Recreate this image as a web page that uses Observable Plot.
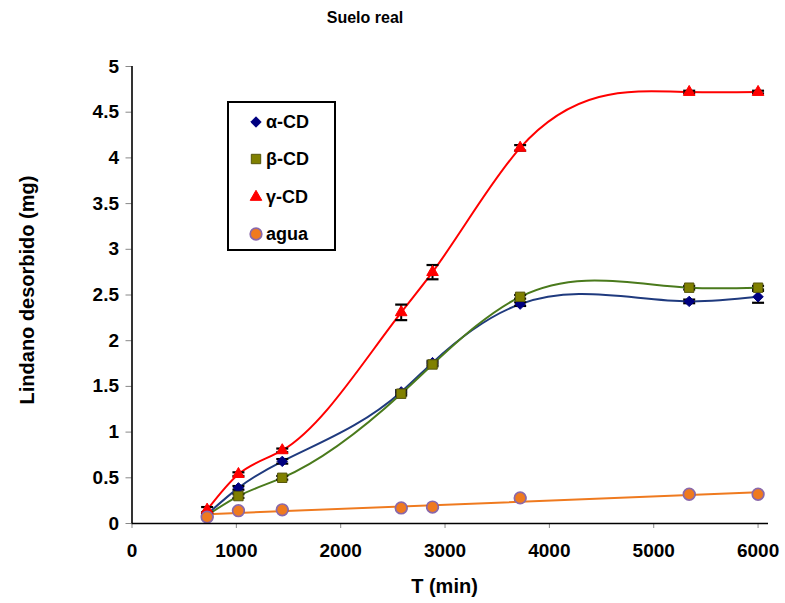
<!DOCTYPE html>
<html>
<head>
<meta charset="utf-8">
<script src="https://cdn.jsdelivr.net/npm/d3@7"></script>
<script src="https://cdn.jsdelivr.net/npm/@observablehq/plot@0.6"></script>
<style>
  body { margin: 0; background: #fff; }
  #wrap { position: relative; width: 785px; height: 603px; font-family: "Liberation Sans", Arial, sans-serif; font-weight: bold; color: #000; }
  #wrap svg.plot { position: absolute; left: 0; top: 0; }
  .lbl { position: absolute; white-space: nowrap; font-weight: bold; }
  #title { left: 0; width: 730px; top: 9px; text-align: center; font-size: 16px; }
  #xlabel { left: 132px; width: 625px; top: 575px; text-align: center; font-size: 20px; }
  #ylabel { left: 27px; top: 290px; font-size: 20px; transform: translate(-50%, -50%) rotate(-90deg); }
  #legend { position: absolute; left: 227px; top: 101px; width: 105px; height: 146px; border: 2px solid #000; background: #fff; }
  #legend .row { position: absolute; left: 0; height: 20px; display: flex; align-items: center; font-size: 18px; }
  #legend svg { margin-left: 20px; margin-right: 3px; }
</style>
</head>
<body>
<div id="wrap">
  <div id="title" class="lbl">Suelo real</div>
  <div id="xlabel" class="lbl">T (min)</div>
  <div id="ylabel" class="lbl">Lindano desorbido (mg)</div>
  <div id="legend"></div>
</div>
<script>
// Sampling times (min)
const times = [720, 1020, 1440, 2580, 2880, 3720, 5340, 6000];

// Desorbed lindane (mg) per extractant, with error half-widths
const alphaCD  = [0.10, 0.39, 0.68, 1.44, 1.76, 2.40, 2.43, 2.48];
const alphaErr = [0.02, 0.02, 0.025, 0.02, 0.02, 0.02, 0.02, 0.065];
const betaCD   = [0.09, 0.30, 0.50, 1.42, 1.74, 2.48, 2.58, 2.58];
const betaErr  = [0.02, 0.02, 0.02, 0.02, 0.02, 0.02, 0.02, 0.02];
const gammaCD  = [0.15, 0.54, 0.80, 2.31, 2.75, 4.11, 4.72, 4.72];
const gammaErr = [0.03, 0.02, 0.02, 0.085, 0.078, 0.03, 0.015, 0.015];
const agua     = [0.07, 0.14, 0.15, 0.17, 0.18, 0.28, 0.32, 0.32];
const aguaErr  = [0.01, 0.01, 0.01, 0.01, 0.01, 0.01, 0.01, 0.01];

const seriesNames = ["α-CD", "β-CD", "γ-CD", "agua"];

// Axis ticks
const xTicks = [0, 1000, 2000, 3000, 4000, 5000, 6000];
const yTicks = [0, 0.5, 1, 1.5, 2, 2.5, 3, 3.5, 4, 4.5, 5];

// Drawing styles per series
const styles = {
  "α-CD": {line: "#1f3a7e", symbol: "diamond2", fill: "#000080", stroke: "#000080", r: 4.7},
  "β-CD": {line: "#4a7a1c", symbol: "square", fill: "#808000", stroke: "#55550a", r: 5.3},
  "γ-CD": {line: "#ff0000", symbol: "triangle", fill: "#ff0000", stroke: "#ff0000", r: 4.3},
  "agua": {line: "#ef7a1f", symbol: "circle", fill: "#ef7a1f", stroke: "#8a68aa", r: 5.8}
};

const valueArrays = [alphaCD, betaCD, gammaCD, agua];
const errArrays = [alphaErr, betaErr, gammaErr, aguaErr];
const rows = seriesNames.map((name, s) =>
  times.map((t, i) => ({serie: name, t, v: valueArrays[s][i], e: errArrays[s][i]}))
);

// Smooth curve: natural cubic spline of y as a function of x, drawn as Bézier segments
function curveSplineX(context) {
  let xs, ys;
  return {
    areaStart() {}, areaEnd() {},
    lineStart() { xs = []; ys = []; },
    point(x, y) { xs.push(+x); ys.push(+y); },
    lineEnd() {
      const n = xs.length;
      if (!n) return;
      context.moveTo(xs[0], ys[0]);
      if (n < 3) { if (n === 2) context.lineTo(xs[1], ys[1]); return; }
      const h = [];
      for (let i = 0; i < n - 1; i++) h.push(xs[i + 1] - xs[i]);
      // second derivatives (natural ends) via the Thomas algorithm
      const M = new Array(n).fill(0);
      const a = [], b = [], c = [], d = [];
      for (let i = 1; i < n - 1; i++) {
        a.push(h[i - 1]);
        b.push(2 * (h[i - 1] + h[i]));
        c.push(h[i]);
        d.push(6 * ((ys[i + 1] - ys[i]) / h[i] - (ys[i] - ys[i - 1]) / h[i - 1]));
      }
      const m = b.length;
      for (let i = 1; i < m; i++) {
        const w = a[i] / b[i - 1];
        b[i] -= w * c[i - 1];
        d[i] -= w * d[i - 1];
      }
      const sol = new Array(m);
      sol[m - 1] = d[m - 1] / b[m - 1];
      for (let i = m - 2; i >= 0; i--) sol[i] = (d[i] - c[i] * sol[i + 1]) / b[i];
      for (let i = 0; i < m; i++) M[i + 1] = sol[i];
      for (let i = 0; i < n - 1; i++) {
        const s = (ys[i + 1] - ys[i]) / h[i];
        const d0 = s - h[i] * (2 * M[i] + M[i + 1]) / 6;
        const d1 = s + h[i] * (M[i] + 2 * M[i + 1]) / 6;
        context.bezierCurveTo(
          xs[i] + h[i] / 3, ys[i] + d0 * h[i] / 3,
          xs[i + 1] - h[i] / 3, ys[i + 1] - d1 * h[i] / 3,
          xs[i + 1], ys[i + 1]
        );
      }
    }
  };
}

// Horizontal cap drawn at each end of an error bar
const capSymbol = {
  draw(ctx, size) {
    const w = Math.sqrt(size / Math.PI);
    ctx.moveTo(-w, 0);
    ctx.lineTo(w, 0);
  }
};

const marks = [];
// fitted lines: smooth curves for the cyclodextrins, linear trend for water
rows.slice(0, 3).forEach((data, s) => {
  marks.push(Plot.line(data, {x: "t", y: "v", curve: curveSplineX, stroke: styles[seriesNames[s]].line, strokeWidth: 2}));
});
marks.push(Plot.linearRegressionY(rows[3], {x: "t", y: "v", ci: 0, stroke: styles["agua"].line, strokeWidth: 2}));

// error bars
rows.forEach((data) => {
  marks.push(Plot.ruleX(data, {x: "t", y1: d => d.v - d.e, y2: d => d.v + d.e, stroke: "#000", strokeWidth: 2}));
  marks.push(Plot.dot(data, {x: "t", y: d => d.v - d.e, symbol: capSymbol, r: 6, stroke: "#000", strokeWidth: 2.2, fill: "none"}));
  marks.push(Plot.dot(data, {x: "t", y: d => d.v + d.e, symbol: capSymbol, r: 6, stroke: "#000", strokeWidth: 2.2, fill: "none"}));
});

// markers
rows.forEach((data, s) => {
  const st = styles[seriesNames[s]];
  marks.push(Plot.dot(data, {x: "t", y: "v", symbol: st.symbol, r: st.r, fill: st.fill, stroke: st.stroke, strokeWidth: s === 3 ? 1.7 : 1}));
});

// axes
marks.push(Plot.axisX({ticks: xTicks, tickFormat: d => String(d), tickSize: 5, tickPadding: 15, stroke: "#888", fill: "#000", fontSize: 19, fontWeight: "bold", label: null}));
marks.push(Plot.axisY({ticks: yTicks, tickFormat: d => String(d), tickSize: 6, tickPadding: 7, stroke: "#888", fill: "#000", fontSize: 19, fontWeight: "bold", label: null}));
marks.push(Plot.ruleY([0], {stroke: "#000", strokeWidth: 1.6}));
marks.push(Plot.ruleX([0], {y1: 0, y2: 5, stroke: "#000", strokeWidth: 1.6}));

const chart = Plot.plot({
  width: 785,
  height: 603,
  marginTop: 66,
  marginBottom: 80,
  marginLeft: 131.5,
  marginRight: 17,
  x: {domain: [0, 6100]},
  y: {domain: [0, 5]},
  style: {fontFamily: "'Liberation Sans', Arial, sans-serif", fontSize: "19px", background: "transparent", overflow: "visible"},
  marks
});
chart.classList.add("plot");
document.getElementById("wrap").prepend(chart);

// legend box
const legend = d3.select("#legend");
const rowTops = [9, 46, 84, 121];
const symMap = {diamond2: d3.symbolDiamond2, square: d3.symbolSquare, triangle: d3.symbolTriangle, circle: d3.symbolCircle};
seriesNames.forEach((name, i) => {
  const st = styles[name];
  const row = legend.append("div").attr("class", "row").style("top", rowTops[i] + "px");
  const svg = row.append("svg").attr("width", 14).attr("height", 14);
  svg.append("path")
    .attr("transform", "translate(7,7)")
    .attr("d", d3.symbol(symMap[st.symbol], Math.PI * st.r * st.r)())
    .attr("fill", st.fill)
    .attr("stroke", st.stroke)
    .attr("stroke-width", i === 3 ? 1.7 : 1);
  row.append("span").text(name);
});
</script>
</body>
</html>
